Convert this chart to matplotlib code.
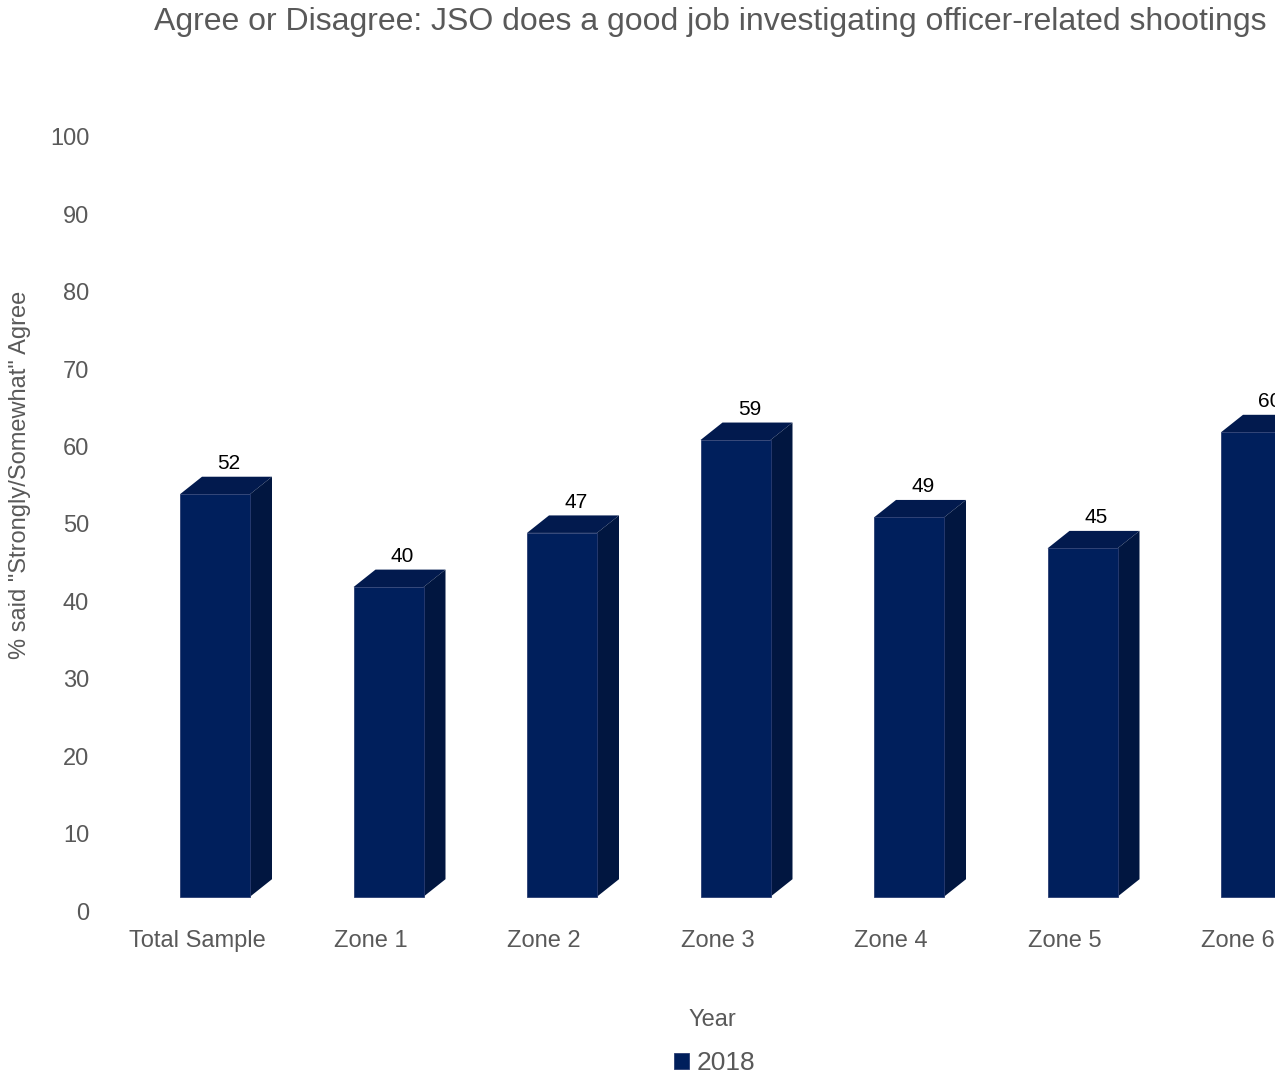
import matplotlib.pyplot as plt
from matplotlib.patches import Polygon

categories = ['Total Sample', 'Zone 1', 'Zone 2', 'Zone 3', 'Zone 4', 'Zone 5', 'Zone 6']
values = [52, 40, 47, 59, 49, 45, 60]
series_name = '2018'

plt.rcParams['font.family'] = ['Liberation Sans', 'DejaVu Sans']
grey = '#595959'
c_front = '#001f5c'
c_top = '#021a4e'
c_side = '#011640'

W, H = 1275, 1076
fig = plt.figure(figsize=(W / 100, H / 100), dpi=100)

# axes placed in pixels: left 110, right edge of figure, zero line at y=911
ax_l, ax_r, ax_b, ax_t = 110, 1275, 911, 100
ax = fig.add_axes([ax_l / W, 1 - ax_b / H, (ax_r - ax_l) / W, (ax_b - ax_t) / H])
step = 173.5      # px per category
ppu = 7.74        # px per value unit
x0 = 197          # px of first category
ax.set_xlim((ax_l - x0) / step, (ax_r - x0) / step)
ax.set_ylim(0, (ax_b - ax_t) / ppu)

# pseudo 3d bar geometry (data units)
off = (180 - x0) / step
bw = 70 / step
ddx = 22 / step
ddy = 17.5 / ppu
base = 14.3 / ppu

xs = list(range(len(categories)))
bars = ax.bar([x + off for x in xs], values, width=bw, bottom=base, align='edge',
              color=c_front, edgecolor='#2a3d72', linewidth=0.6, label=series_name, zorder=3)
for x, v in zip(xs, values):
    l = x + off
    r = l + bw
    top = base + v
    ax.add_patch(Polygon([(l, top), (r, top), (r + ddx, top + ddy), (l + ddx, top + ddy)],
                         closed=True, facecolor=c_top, edgecolor='none', zorder=2))
    ax.add_patch(Polygon([(r, base), (r + ddx, base + ddy), (r + ddx, top + ddy), (r, top)],
                         closed=True, facecolor=c_side, edgecolor='none', zorder=2))
    ax.text(l + 49 / step, top + ddy + 0.5, str(v), ha='center', va='bottom',
            fontsize=15, color='black', clip_on=False)

ax.set_yticks(range(0, 101, 10))
ax.set_xticks(xs)
ax.set_xticklabels(categories)
ax.tick_params(axis='y', length=0, pad=15, labelsize=17, labelcolor=grey)
ax.tick_params(axis='x', length=0, pad=13.5, labelsize=17, labelcolor=grey)
for s in ax.spines.values():
    s.set_visible(False)

fig.text(710 / W, 1 - 22 / H, 'Agree or Disagree: JSO does a good job investigating officer-related shootings',
         ha='center', va='center', fontsize=23, color=grey)
fig.text(20 / W, 1 - 475 / H, '% said "Strongly/Somewhat" Agree', rotation=90,
         ha='center', va='center', fontsize=17, color=grey)
fig.text(712 / W, 1 - 1020 / H, 'Year', ha='center', va='center', fontsize=17, color=grey)

fig.legend(handles=[bars], labels=[series_name], loc='center',
           bbox_to_anchor=(715 / W, 1 - 1063 / H), frameon=False, fontsize=19,
           handlelength=0.55, handleheight=0.55, handletextpad=0.3, labelcolor=grey)

plt.savefig('out.png', dpi=100)
